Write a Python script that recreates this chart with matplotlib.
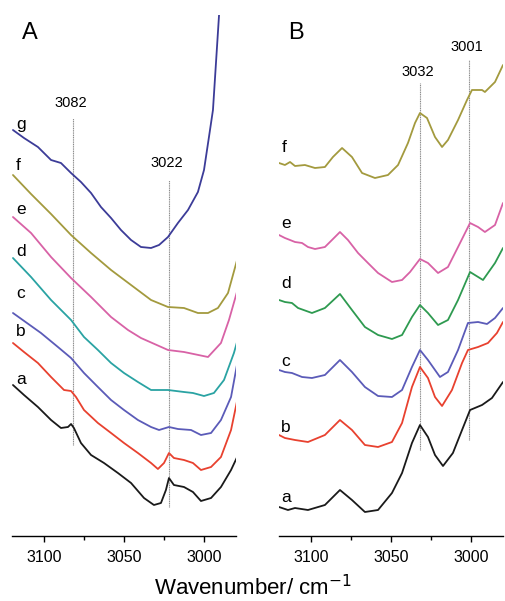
import numpy as np
import matplotlib
matplotlib.use("Agg")
import matplotlib.pyplot as plt

plt.rcParams['font.family'] = ['Liberation Sans', 'DejaVu Sans']

# ---- panel A spectra (wavenumber, absorbance a.u.) ----
A_g_wn = [3119.4, 3112.5, 3103.8, 3095.6, 3089.4, 3083.1, 3076.9, 3070.6, 3064.4, 3058.1, 3051.9,
          3045.6, 3039.4, 3033.1, 3028.1, 3022.5, 3016.3, 3010.0, 3003.8, 3000.0, 2996.9, 2994.4,
          2990.6, 2986.9]
A_g = [4.06, 3.98, 3.89, 3.76, 3.73, 3.63, 3.54, 3.43, 3.29, 3.18, 3.06,
       2.96, 2.89, 2.88, 2.91, 2.99, 3.13, 3.26, 3.44, 3.66, 3.99, 4.26,
       5.21, 6.16]
A_f_wn = [3119.4, 3108.1, 3095.6, 3083.1, 3070.6, 3058.1, 3045.6, 3033.1, 3022.5, 3012.5, 3003.8,
          2997.5, 2991.3, 2985.0, 2978.8]
A_f = [3.61, 3.42, 3.22, 3.01, 2.83, 2.66, 2.51, 2.36, 2.29, 2.28, 2.23,
       2.23, 2.28, 2.43, 2.79]
A_e_wn = [3119.4, 3108.1, 3095.6, 3083.1, 3070.6, 3058.1, 3047.5, 3039.4, 3022.5, 3012.5, 2997.5,
          2989.4, 2984.4, 2979.4]
A_e = [3.19, 3.03, 2.79, 2.58, 2.39, 2.19, 2.06, 1.98, 1.86, 1.84, 1.79,
       1.93, 2.16, 2.44]
A_d_wn = [3119.4, 3108.1, 3095.6, 3083.1, 3075.0, 3066.3, 3058.1, 3050.0, 3041.3, 3033.1, 3022.5,
          3012.5, 3006.9, 3000.0, 2993.8, 2987.5, 2981.3, 2978.1]
A_d = [2.78, 2.59, 2.36, 2.16, 1.99, 1.86, 1.73, 1.63, 1.54, 1.46, 1.46,
       1.44, 1.43, 1.40, 1.43, 1.56, 1.83, 2.01]
A_c_wn = [3119.4, 3101.9, 3091.3, 3083.1, 3075.0, 3066.3, 3058.1, 3050.0, 3041.3, 3033.1, 3028.1,
          3021.9, 3016.3, 3008.1, 3001.9, 2995.6, 2989.4, 2983.1, 2979.4]
A_c = [2.23, 2.03, 1.89, 1.78, 1.63, 1.49, 1.36, 1.26, 1.16, 1.09, 1.06,
       1.09, 1.07, 1.06, 1.01, 1.03, 1.16, 1.39, 1.71]
A_b_wn = [3119.4, 3112.5, 3103.8, 3095.6, 3087.5, 3083.1, 3080.0, 3075.0, 3066.3, 3058.1, 3050.0,
          3041.3, 3033.1, 3028.8, 3025.0, 3021.9, 3018.8, 3012.5, 3006.9, 3001.9, 2995.6, 2989.4,
          2983.1, 2978.8]
A_b = [1.93, 1.84, 1.73, 1.59, 1.46, 1.45, 1.39, 1.26, 1.13, 1.03, 0.93,
       0.83, 0.73, 0.67, 0.73, 0.83, 0.78, 0.76, 0.73, 0.66, 0.69, 0.79,
       1.06, 1.39]
A_a_wn = [3119.4, 3112.5, 3103.8, 3095.6, 3089.4, 3085.0, 3083.1, 3081.3, 3076.9, 3070.6, 3062.5,
          3053.8, 3045.6, 3037.5, 3031.3, 3026.9, 3023.8, 3021.9, 3018.8, 3012.5, 3006.9, 3001.9,
          2995.6, 2989.4, 2983.1, 2978.1]
A_a = [1.51, 1.41, 1.29, 1.16, 1.08, 1.09, 1.12, 1.08, 0.93, 0.81, 0.73,
       0.63, 0.53, 0.38, 0.31, 0.33, 0.46, 0.58, 0.51, 0.49, 0.44, 0.35,
       0.38, 0.49, 0.66, 0.83]

# ---- panel B spectra ----
B_f_wn = [3120.0, 3116.3, 3113.1, 3110.0, 3103.8, 3097.5, 3091.3, 3086.3, 3080.6, 3074.4, 3068.1,
          3060.0, 3051.9, 3045.6, 3039.4, 3035.0, 3031.9, 3027.5, 3022.5, 3018.1, 3014.4, 3008.1,
          3002.5, 2999.4, 2993.1, 2991.3, 2985.0, 2980.0]
B_f = [3.73, 3.71, 3.74, 3.70, 3.71, 3.68, 3.69, 3.79, 3.88, 3.79, 3.63,
       3.58, 3.61, 3.71, 3.93, 4.13, 4.23, 4.18, 3.99, 3.89, 3.96, 4.16,
       4.36, 4.46, 4.46, 4.44, 4.54, 4.71]
B_e_wn = [3120.0, 3116.3, 3113.1, 3110.0, 3105.6, 3101.9, 3097.5, 3091.3, 3086.9, 3081.9, 3076.9,
          3070.6, 3064.4, 3058.1, 3049.4, 3043.1, 3038.1, 3031.9, 3026.9, 3020.6, 3014.4, 3008.1,
          3000.6, 2995.6, 2991.3, 2985.0, 2980.0]
B_e = [3.01, 2.98, 2.96, 2.94, 2.93, 2.89, 2.87, 2.89, 2.96, 3.04, 2.96,
       2.83, 2.73, 2.63, 2.54, 2.56, 2.64, 2.77, 2.73, 2.63, 2.69, 2.89,
       3.13, 3.09, 3.04, 3.11, 3.33]
B_d_wn = [3120.0, 3116.3, 3111.9, 3108.1, 3099.4, 3091.3, 3081.9, 3074.4, 3066.3, 3058.1, 3049.4,
          3043.1, 3036.9, 3031.9, 3026.9, 3020.6, 3014.4, 3008.1, 3000.6, 2992.5, 2985.0, 2980.0]
B_d = [2.36, 2.34, 2.33, 2.28, 2.23, 2.28, 2.42, 2.26, 2.09, 2.01, 1.97,
       2.01, 2.19, 2.31, 2.23, 2.11, 2.16, 2.36, 2.64, 2.56, 2.73, 2.88]
B_c_wn = [3120.0, 3116.3, 3111.9, 3105.6, 3099.4, 3091.3, 3081.9, 3074.4, 3066.3, 3058.1, 3049.4,
          3043.1, 3036.9, 3031.9, 3026.9, 3019.4, 3014.4, 3008.1, 3001.9, 2995.6, 2990.0, 2985.0,
          2980.0]
B_c = [1.66, 1.64, 1.63, 1.59, 1.58, 1.61, 1.76, 1.64, 1.49, 1.40, 1.39,
       1.46, 1.69, 1.86, 1.76, 1.59, 1.64, 1.86, 2.13, 2.14, 2.12, 2.18,
       2.28]
B_b_wn = [3120.0, 3116.3, 3110.0, 3101.9, 3091.3, 3081.9, 3074.4, 3066.3, 3058.1, 3049.4, 3043.1,
          3036.9, 3031.9, 3026.9, 3022.5, 3018.1, 3011.9, 3005.6, 3001.9, 2995.6, 2989.4, 2983.8,
          2980.0]
B_b = [1.01, 0.98, 0.96, 0.94, 1.01, 1.16, 1.06, 0.91, 0.89, 0.94, 1.13,
       1.49, 1.69, 1.58, 1.39, 1.30, 1.46, 1.73, 1.86, 1.89, 1.93, 2.03,
       2.14]
B_a_wn = [3120.0, 3114.4, 3110.0, 3101.9, 3091.3, 3081.9, 3074.4, 3066.3, 3058.1, 3049.4, 3043.1,
          3036.9, 3031.9, 3026.9, 3022.5, 3017.5, 3011.3, 3005.6, 3000.6, 2993.1, 2986.9, 2980.0]
B_a = [0.29, 0.26, 0.28, 0.26, 0.31, 0.46, 0.36, 0.24, 0.26, 0.43, 0.63,
       0.93, 1.11, 0.99, 0.81, 0.70, 0.83, 1.06, 1.26, 1.31, 1.38, 1.54]

# marker lines: wavenumber, (ymin, ymax), label height
A_marks = [3082, 3022]
A_mark_span = [(0.91, 4.18), (0.29, 3.56)]
A_mark_text_y = [4.33, 3.73]
B_marks = [3032, 3001]
B_mark_span = [(0.86, 4.53), (0.96, 4.76)]
B_mark_text_y = [4.64, 4.89]

A_names = ['a', 'b', 'c', 'd', 'e', 'f', 'g']
A_name_y = [1.57, 2.05, 2.42, 2.85, 3.27, 3.70, 4.12]
B_names = ['a', 'b', 'c', 'd', 'e', 'f']
B_name_y = [0.39, 1.09, 1.75, 2.52, 3.12, 3.89]

col_a = '#1a1a1a'
col_b = '#e8412f'
col_c = '#5b5bb8'
col_dA = '#2aa3a3'
col_dB = '#2e9a50'
col_e = '#d862a6'
col_f = '#a39a3e'
col_g = '#3c3c98'

fig = plt.figure(figsize=(5.06, 6.01), dpi=100)
axA = fig.add_axes([12/506, 65/601, 224/506, 521/601])
axB = fig.add_axes([279/506, 65/601, 224/506, 521/601])

lw = 1.3
kw = dict(lw=lw, solid_joinstyle='round', solid_capstyle='round')
axA.plot(A_a_wn, A_a, color=col_a, **kw)
axA.plot(A_b_wn, A_b, color=col_b, **kw)
axA.plot(A_c_wn, A_c, color=col_c, **kw)
axA.plot(A_d_wn, A_d, color=col_dA, **kw)
axA.plot(A_e_wn, A_e, color=col_e, **kw)
axA.plot(A_f_wn, A_f, color=col_f, **kw)
axA.plot(A_g_wn, A_g, color=col_g, **kw)

axB.plot(B_a_wn, B_a, color=col_a, **kw)
axB.plot(B_b_wn, B_b, color=col_b, **kw)
axB.plot(B_c_wn, B_c, color=col_c, **kw)
axB.plot(B_d_wn, B_d, color=col_dB, **kw)
axB.plot(B_e_wn, B_e, color=col_e, **kw)
axB.plot(B_f_wn, B_f, color=col_f, **kw)

for ax, marks, spans, ty in [(axA, A_marks, A_mark_span, A_mark_text_y),
                             (axB, B_marks, B_mark_span, B_mark_text_y)]:
    for wn, (y0, y1), t in zip(marks, spans, ty):
        ax.plot([wn, wn], [y0, y1], color='#8a8a8a', lw=0.8, ls=(0, (1, 0.6)), zorder=0)
        ax.text(wn + 1.5, t, str(wn), ha='center', va='center', fontsize=10.5)

for n, y in zip(A_names, A_name_y):
    axA.text(3117.5, y, n, ha='left', va='center', fontsize=12.5)
for n, y in zip(B_names, B_name_y):
    axB.text(3118.5, y, n, ha='left', va='center', fontsize=12.5)

axA.text(3114, 5.03, 'A', ha='left', va='center', fontsize=17)
axB.text(3114, 5.03, 'B', ha='left', va='center', fontsize=17)

for ax in (axA, axB):
    ax.set_xlim(3120, 2980)
    ax.set_ylim(0, 5.21)
    for s in ('top', 'left', 'right'):
        ax.spines[s].set_visible(False)
    ax.spines['bottom'].set_linewidth(1.0)
    ax.set_yticks([])
    ax.set_xticks([3100, 3050, 3000])
    ax.set_xticks([3075, 3025], minor=True)
    ax.tick_params(axis='x', which='major', direction='out', length=4, width=1, labelsize=11.5, pad=6)
    ax.tick_params(axis='x', which='minor', direction='out', length=3, width=1)
    ax.patch.set_alpha(0)

fig.text(0.5, 1 - 588/601, 'Wavenumber/ cm$^{-1}$', ha='center', va='center', fontsize=16)

fig.savefig('out.png', dpi=100)
